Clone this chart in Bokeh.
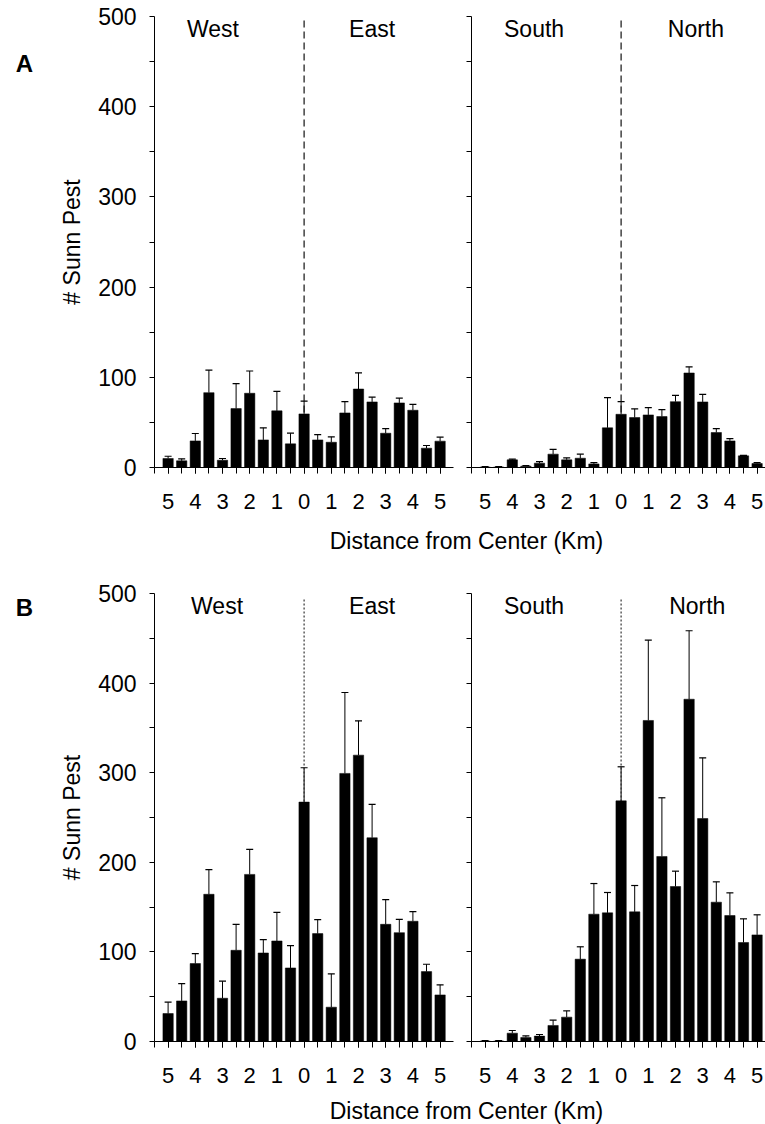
from bokeh.plotting import figure
from bokeh.models import FixedTicker, Label, Whisker, TeeHead, ColumnDataSource, Range1d
from bokeh.layouts import column, row
from bokeh.embed import file_html
from bokeh.resources import INLINE

# Sampling positions along each transect (km from the field centre)
distance_km = [-5, -4.5, -4, -3.5, -3, -2.5, -2, -1.5, -1, -0.5, 0,
               0.5, 1, 1.5, 2, 2.5, 3, 3.5, 4, 4.5, 5]
x_tick_labels = {-5: "5", -4: "4", -3: "3", -2: "2", -1: "1", 0: "0",
                 1: "1", 2: "2", 3: "3", 4: "4", 5: "5"}
x_edge_ticks = [-5.5, 5.5]
y_ticks = [0, 100, 200, 300, 400, 500]
y_minor_ticks = [50, 150, 250, 350, 450]

# A: mean counts and standard errors, West->East and South->North transects
a_west_east = [10, 7.4, 29.5, 83, 8.1, 65.3, 82.3, 30.6, 62.8, 26.2, 59.4,
               30.6, 28, 60.5, 87, 72.7, 38, 71.6, 63.5, 21.4, 29.2]
a_west_east_se = [2.5, 2.2, 8.2, 25, 1.9, 27.7, 24.7, 13.4, 21.7, 11.8, 14.1,
                  5.9, 6, 12.5, 18, 5.3, 5, 5.4, 6.5, 3, 4.4]
a_south_north = [0.5, 0.5, 8.5, 1.5, 4.8, 14.8, 8.5, 10.3, 4, 44, 59,
                 55.4, 58.3, 56.5, 73, 104.8, 72.7, 38.8, 29.5, 12.9, 4.4]
a_south_north_se = [0.5, 0.5, 0.8, 0.5, 1.8, 5.2, 2.2, 4.5, 1.5, 33.5, 14,
                    9.6, 8.1, 7.7, 7, 6.7, 8.3, 4.4, 2.5, 0.6, 1.1]

# B: mean counts and standard errors
b_west_east = [31.2, 45.3, 87, 164.3, 48.3, 101.8, 186.5, 98.8, 112.2, 82.1, 267.2,
               120.4, 38.3, 299.2, 319.6, 227.4, 130.8, 121.5, 134.2, 78, 52]
b_west_east_se = [12.7, 19.4, 11, 27.5, 19, 29, 27.9, 14.9, 32, 24.9, 38.3,
                  15.6, 37.1, 90.3, 38.3, 37.2, 27.5, 14.9, 10.8, 8.2, 11.2]
b_south_north = [0.5, 0.5, 9.3, 4.5, 6, 17.9, 27.2, 91.9, 142.1, 143.6, 268.6,
                 144.7, 358.3, 206.5, 173, 382, 248.9, 155.5, 140.6, 110.5, 119]
b_south_north_se = [0.5, 0.5, 3, 1.8, 1.8, 5.9, 7, 13.8, 34.2, 22.7, 38,
                    29.4, 89.6, 65.5, 17.1, 76.4, 67.7, 22.7, 25.3, 26.4, 22.4]

FONT = "Liberation Sans"
PX_PER_KM = 27.2
BAR_WIDTH = 0.38


def blank(frame_w, frame_h, top=0, bottom=0):
    p = figure(frame_width=frame_w, frame_height=frame_h, title=None,
               x_range=Range1d(0, frame_w), y_range=Range1d(0, frame_h),
               x_axis_location=None, y_axis_location=None,
               toolbar_location=None, output_backend="svg",
               min_border_left=0, min_border_right=0,
               min_border_top=top, min_border_bottom=bottom,
               background_fill_color="white", border_fill_color="white")
    p.outline_line_color = None
    p.grid.visible = False
    return p


def panel_letter(letter, top, frame_h, bottom, y_from_frame_top):
    p = blank(50, frame_h, top, bottom)
    p.add_layout(Label(x=24, y=frame_h - y_from_frame_top, text=letter,
                       text_font=FONT, text_font_size="24px",
                       text_font_style="bold", text_color="black",
                       text_align="center", text_baseline="middle"))
    return p


def axis_title(height, center_from_top):
    p = blank(765, height)
    p.add_layout(Label(x=466, y=height - center_from_top,
                       text="Distance from Center (Km)", text_font=FONT,
                       text_font_size="23px", text_color="black",
                       text_align="center", text_baseline="middle"))
    return p


def panel(values, errors, side_names, left_border, right_border, frame_w,
          top_border, frame_h, bottom_border, first, center_dash,
          center_color, center_width, center_top):
    x_end = -5.5 + frame_w / PX_PER_KM
    p = figure(frame_width=frame_w, frame_height=frame_h, title=None,
               min_border_left=left_border, min_border_right=right_border,
               min_border_top=top_border, min_border_bottom=bottom_border,
               x_range=Range1d(-5.5, x_end), y_range=Range1d(0, 500),
               toolbar_location=None, output_backend="svg",
               background_fill_color="white", border_fill_color="white")
    p.outline_line_color = None
    p.grid.visible = False

    # centre line between the two directions
    p.segment(x0=[0], y0=[0], x1=[0], y1=[center_top], line_color=center_color,
              line_width=center_width, line_dash=center_dash)

    src = ColumnDataSource(dict(
        x=distance_km, top=values,
        upper=[v + e for v, e in zip(values, errors)]))
    p.vbar(x="x", top="top", bottom=0, width=BAR_WIDTH, source=src,
           fill_color="black", line_color="black", line_width=0.5)
    p.add_layout(Whisker(source=src, base="x", lower="top", upper="upper",
                         line_color="black", line_width=1,
                         upper_head=TeeHead(size=7, line_color="black", line_width=1.2),
                         lower_head=None))

    # x axis: km labels on integers, ticks every half km
    xa = p.xaxis[0]
    xa.ticker = FixedTicker(ticks=list(x_tick_labels.keys()),
                            minor_ticks=distance_km + x_edge_ticks)
    xa.major_label_overrides = x_tick_labels
    xa.major_tick_in = 0
    xa.major_tick_out = 6
    xa.minor_tick_in = 0
    xa.minor_tick_out = 6
    xa.major_label_standoff = 20
    xa.major_label_text_font = FONT
    xa.major_label_text_font_size = "22px"
    xa.major_label_text_color = "black"
    xa.axis_line_color = "black"
    xa.major_tick_line_color = "black"
    xa.minor_tick_line_color = "black"

    ya = p.yaxis[0]
    ya.major_tick_in = 0
    ya.major_tick_out = 5
    ya.minor_tick_in = 0
    ya.minor_tick_out = 5
    ya.axis_line_color = "black"
    ya.major_tick_line_color = "black"
    ya.minor_tick_line_color = "black"
    if first:
        ya.ticker = FixedTicker(ticks=y_ticks, minor_ticks=y_minor_ticks)
        ya.major_label_standoff = 13
        ya.major_label_text_font = FONT
        ya.major_label_text_font_size = "23px"
        ya.major_label_text_color = "black"
        ya.axis_label = "# Sunn Pest"
        ya.axis_label_text_font = FONT
        ya.axis_label_text_font_size = "23px"
        ya.axis_label_text_font_style = "normal"
        ya.axis_label_text_color = "black"
        ya.axis_label_standoff = 10
    else:
        # shared scale: ticks only, no numbers
        ya.ticker = FixedTicker(ticks=[], minor_ticks=y_ticks + y_minor_ticks)
        ya.major_label_standoff = 0

    for name, xpos in side_names:
        p.add_layout(Label(x=xpos, y=486, text=name, text_font=FONT,
                           text_font_size="23px", text_color="black",
                           text_align="center", text_baseline="middle"))
    return p


a_left = panel(a_west_east, a_west_east_se, [("West", -3.35), ("East", 2.5)],
               104, 4, 299, 16, 451, 53, True, "7 4", "#111111", 1.2, 500)
a_right = panel(a_south_north, a_south_north_se, [("South", -3.2), ("North", 2.75)],
                14, 0, 294, 16, 451, 53, False, "7 4", "#111111", 1.2, 500)
b_left = panel(b_west_east, b_west_east_se, [("West", -3.2), ("East", 2.5)],
               104, 4, 299, 33, 448, 52, True, "2 2", "#333333", 1.2, 495)
b_right = panel(b_south_north, b_south_north_se, [("South", -3.2), ("North", 2.8)],
                14, 0, 294, 33, 448, 52, False, "2 2", "#333333", 1.2, 495)

layout = column(row(panel_letter("A", 16, 451, 53, 47), a_left, a_right, spacing=0),
                axis_title(40, 20),
                row(panel_letter("B", 33, 448, 52, 14), b_left, b_right, spacing=0),
                axis_title(31, 17),
                spacing=0)

open("out.html", "w").write(file_html(layout, INLINE))
